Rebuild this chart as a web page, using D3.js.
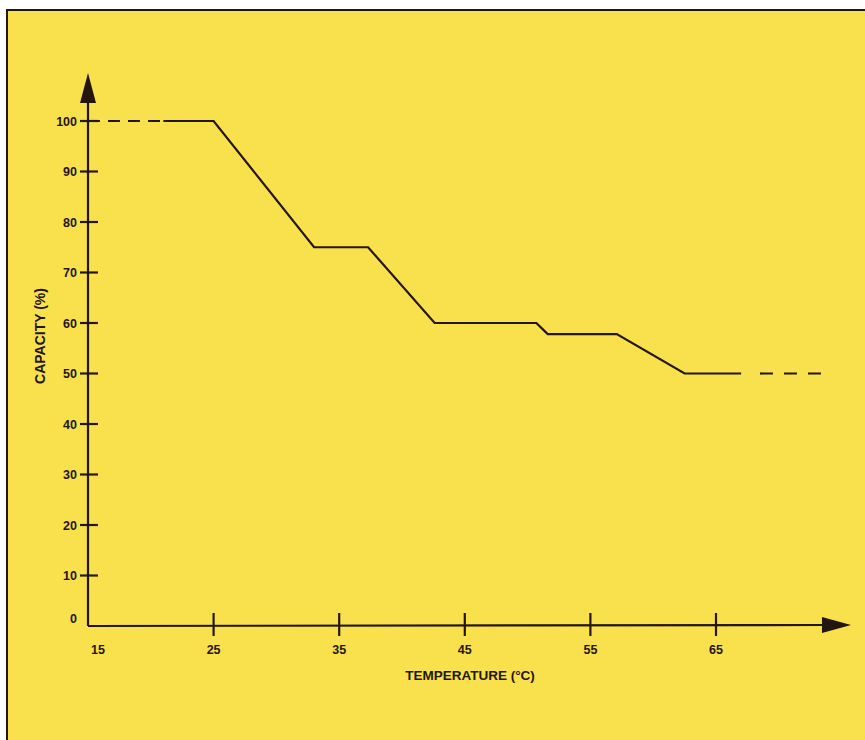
<!DOCTYPE html>
<html><head><meta charset="utf-8">
<script src="https://cdn.jsdelivr.net/npm/d3@7"></script>
<style>html,body{margin:0;padding:0;background:#fff;}svg{display:block;}</style>
</head><body>
<script>
// Data
const xTicks = [15, 25, 35, 45, 55, 65];
const yTicks = [0, 10, 20, 30, 40, 50, 60, 70, 80, 90, 100];
const tempSolid = [21, 25, 33, 37.3, 42.6, 50.7, 51.6, 57.1, 62.5, 67];
const capSolid  = [100, 100, 75, 75, 60, 60, 57.8, 57.8, 50, 50];
const tempDashStart = [15, 21];
const capDashStart  = [100, 100];
const tempDashEnd = [68.5, 73.4];
const capDashEnd  = [50, 50];
const xTitle = "TEMPERATURE (°C)";
const yTitle = "CAPACITY (%)";

const W = 865, H = 740;
const ink = "#22160e";
const svg = d3.select("body").append("svg").attr("width", W).attr("height", H);

svg.append("rect").attr("x", 0).attr("y", 0).attr("width", W).attr("height", H).attr("fill", "#fff");
svg.append("rect").attr("x", 7).attr("y", 10).attr("width", W + 10).attr("height", H + 10)
  .attr("fill", "#f9e14d").attr("stroke", ink).attr("stroke-width", 2);

const x = d3.scaleLinear().domain([15, 65]).range([88, 716]);
const y = d3.scaleLinear().domain([0, 100]).range([626, 121]);

const font = "'Liberation Sans', Arial, Helvetica, sans-serif";

// Axes lines
const x0 = x(15), y0 = y(0);
svg.append("line").attr("x1", x0).attr("y1", y0).attr("x2", x0).attr("y2", 100)
  .attr("stroke", ink).attr("stroke-width", 2.2);
svg.append("line").attr("x1", x0).attr("y1", y0).attr("x2", 825).attr("y2", y0 - 1)
  .attr("stroke", ink).attr("stroke-width", 2.2);
// arrows
svg.append("path").attr("d", `M${x0},73 L${x0 - 8},103 L${x0 + 8},103 Z`).attr("fill", ink);
svg.append("path").attr("d", `M851,${y0 - 1} L822,${y0 - 9} L822,${y0 + 7} Z`).attr("fill", ink);

// Y ticks
const gy = svg.append("g");
yTicks.forEach(v => {
  if (v > 0) {
    gy.append("line").attr("x1", x0 - 8).attr("x2", x0 + 10).attr("y1", y(v)).attr("y2", y(v))
      .attr("stroke", ink).attr("stroke-width", 2.2);
  }
  gy.append("text").attr("x", x0 - 11).attr("y", y(v) + (v === 0 ? -8 : 0)).attr("dy", "0.36em")
    .attr("text-anchor", "end").attr("font-family", font).attr("font-weight", "bold")
    .attr("font-size", 12.5).attr("fill", ink).text(v);
});

// X ticks
const gx = svg.append("g");
xTicks.forEach(v => {
  if (v > 15) {
    gx.append("line").attr("x1", x(v)).attr("x2", x(v)).attr("y1", y0 - 13).attr("y2", y0 + 10)
      .attr("stroke", ink).attr("stroke-width", 2.2);
  }
  gx.append("text").attr("x", x(v) + (v === 15 ? 10 : 0)).attr("y", 654)
    .attr("text-anchor", "middle").attr("font-family", font).attr("font-weight", "bold")
    .attr("font-size", 12.5).attr("fill", ink).text(v);
});

// Titles
svg.append("text").attr("x", 470).attr("y", 680).attr("text-anchor", "middle")
  .attr("font-family", font).attr("font-weight", "bold").attr("font-size", 13.5)
  .attr("fill", ink).text(xTitle);
svg.append("text").attr("transform", "translate(45,336) rotate(-90)").attr("text-anchor", "middle")
  .attr("font-family", font).attr("font-weight", "bold").attr("font-size", 14)
  .attr("fill", ink).text(yTitle);

// Lines
const line = d3.line().x(d => x(d[0])).y(d => y(d[1]));
const solid = tempSolid.map((t, i) => [t, capSolid[i]]);
const ds = tempDashStart.map((t, i) => [t, capDashStart[i]]);
const de = tempDashEnd.map((t, i) => [t, capDashEnd[i]]);
svg.append("path").attr("d", line(solid)).attr("fill", "none").attr("stroke", ink)
  .attr("stroke-width", 2.2).attr("stroke-linejoin", "miter");
svg.append("path").attr("d", line(ds)).attr("fill", "none").attr("stroke", ink)
  .attr("stroke-width", 2.2).attr("stroke-dasharray", "12,8");
svg.append("path").attr("d", line(de)).attr("fill", "none").attr("stroke", ink)
  .attr("stroke-width", 2.2).attr("stroke-dasharray", "13,11");
</script>
</body></html>
